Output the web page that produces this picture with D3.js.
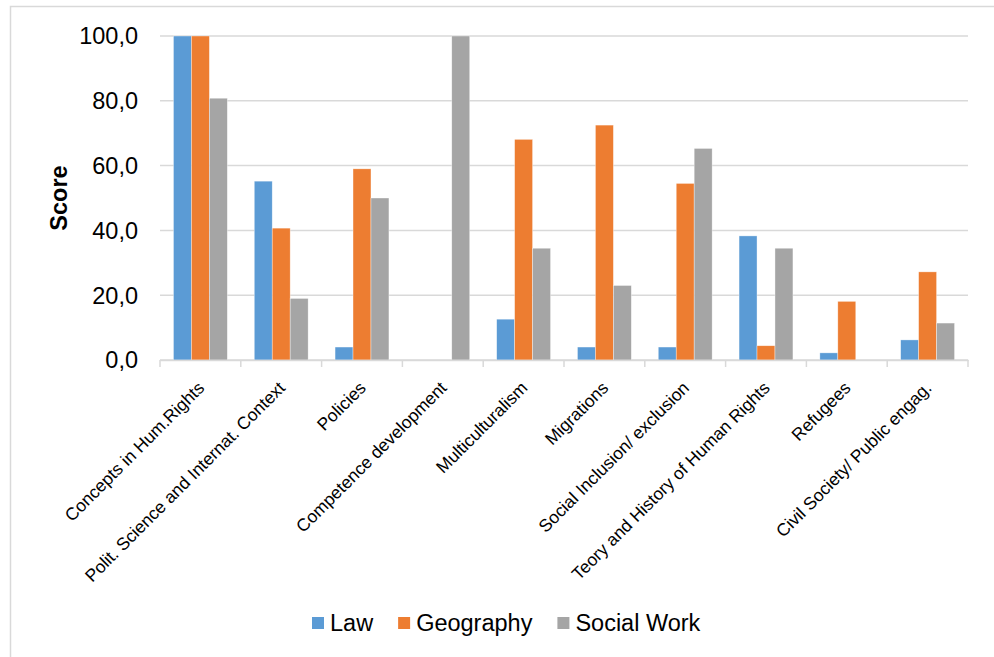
<!DOCTYPE html>
<html><head><meta charset="utf-8">
<script src="https://cdn.jsdelivr.net/npm/d3@7/dist/d3.min.js"></script>
<style>body{margin:0;background:#fff}svg{display:block;font-family:"Liberation Sans",Arial,sans-serif}</style>
</head><body>
<svg id="c" width="994" height="657"></svg>
<script>
const categories = ["Concepts in Hum.Rights","Polit. Science and Internat. Context","Policies","Competence development","Multiculturalism","Migrations","Social Inclusion/ exclusion","Teory and History of Human Rights","Refugees","Civil Society/ Public engag."];
const seriesNames = ["Law","Geography","Social Work"];
const law = [100, 55.2, 4.0, 0, 12.6, 4.0, 4.0, 38.3, 2.2, 6.2];
const geography = [100, 40.7, 59.0, 0, 68.1, 72.5, 54.5, 4.4, 18.1, 27.2];
const socialWork = [80.8, 19.0, 50.0, 100, 34.5, 23.0, 65.3, 34.5, 0, 11.4];
const yTicks = [0, 20, 40, 60, 80, 100];
const colors = ["#5b9bd5", "#ed7d31", "#a5a5a5"];

const series = [law, geography, socialWork];
const svg = d3.select("#c");
const L = 160, R = 968, T = 36, B = 360;

svg.append("rect").attr("x",10.5).attr("y",6.5).attr("width",1000).attr("height",700)
  .attr("fill","none").attr("stroke","#d9d9d9").attr("stroke-width",1.5);

const x0 = d3.scaleBand().domain(categories).range([L, R]).paddingInner(0).paddingOuter(0);
const x1 = d3.scaleBand().domain(seriesNames).range([0, x0.bandwidth()]).paddingOuter(0.75/ (1)).paddingInner(0);
// compute inner padding so each bar = bandwidth/4.5
x1.range([x0.bandwidth()*0.75/4.5, x0.bandwidth()*(1-0.75/4.5)]).paddingOuter(0);
const y = d3.scaleLinear().domain([0,100]).range([B, T]);
const loc = d3.formatLocale({decimal:",", thousands:".", grouping:[3], currency:["","€"]});
const fmt = loc.format(".1f");

// gridlines
svg.append("g").selectAll("line").data(yTicks).join("line")
  .attr("x1",L).attr("x2",R).attr("y1",d=>y(d)).attr("y2",d=>y(d))
  .attr("stroke","#d9d9d9").attr("stroke-width",1.5);

// y tick labels
svg.append("g").selectAll("text").data(yTicks).join("text")
  .attr("x",138).attr("y",d=>y(d)).attr("dy","0.36em").attr("text-anchor","end")
  .attr("font-size","23.5px").attr("fill","#000").text(d=>fmt(d));

// y title
svg.append("text").attr("transform","translate(67,198) rotate(-90)").attr("text-anchor","middle")
  .attr("font-size","23.5px").attr("font-weight","bold").text("Score");

// bars
const g = svg.append("g");
categories.forEach((c, i) => {
  series.forEach((s, j) => {
    const v = s[i];
    if (v <= 0) return;
    g.append("rect").attr("x", x0(c) + x1(seriesNames[j])).attr("width", x1.bandwidth())
      .attr("y", y(v)).attr("height", y(0) - y(v)).attr("fill", colors[j])
      .attr("stroke","#fff").attr("stroke-width",0.6).attr("stroke-opacity",0.6);
  });
});

// x axis
const xa = svg.append("g").attr("transform",`translate(0,${B})`).call(
  d3.axisBottom(x0).tickSize(0).tickFormat(""));
xa.select(".domain").attr("stroke","#d9d9d9").attr("stroke-width",1.5);
const bounds = categories.map(c => x0(c)).concat([R]);
svg.append("g").selectAll("line").data(bounds).join("line")
  .attr("x1",d=>d).attr("x2",d=>d).attr("y1",B).attr("y2",B+7)
  .attr("stroke","#d9d9d9").attr("stroke-width",1.5);

svg.append("g").selectAll("text").data(categories).join("text")
  .attr("transform", d => `translate(${x0(d)+x0.bandwidth()/2+5},${B+29}) rotate(-45)`)
  .attr("text-anchor","end").attr("font-size","17.5px").attr("fill","#000").text(d=>d);

// legend
const lg = svg.append("g");
let lx = 312;
seriesNames.forEach((n, j) => {
  lg.append("rect").attr("x", lx).attr("y", 617).attr("width",12).attr("height",12).attr("fill",colors[j]);
  const t = lg.append("text").attr("x", lx+18).attr("y", 623).attr("dy","0.36em")
    .attr("font-size","23.5px").attr("fill","#000").text(n);
  lx = lx + 18 + t.node().getComputedTextLength() + 25;
});
</script>
</body></html>
